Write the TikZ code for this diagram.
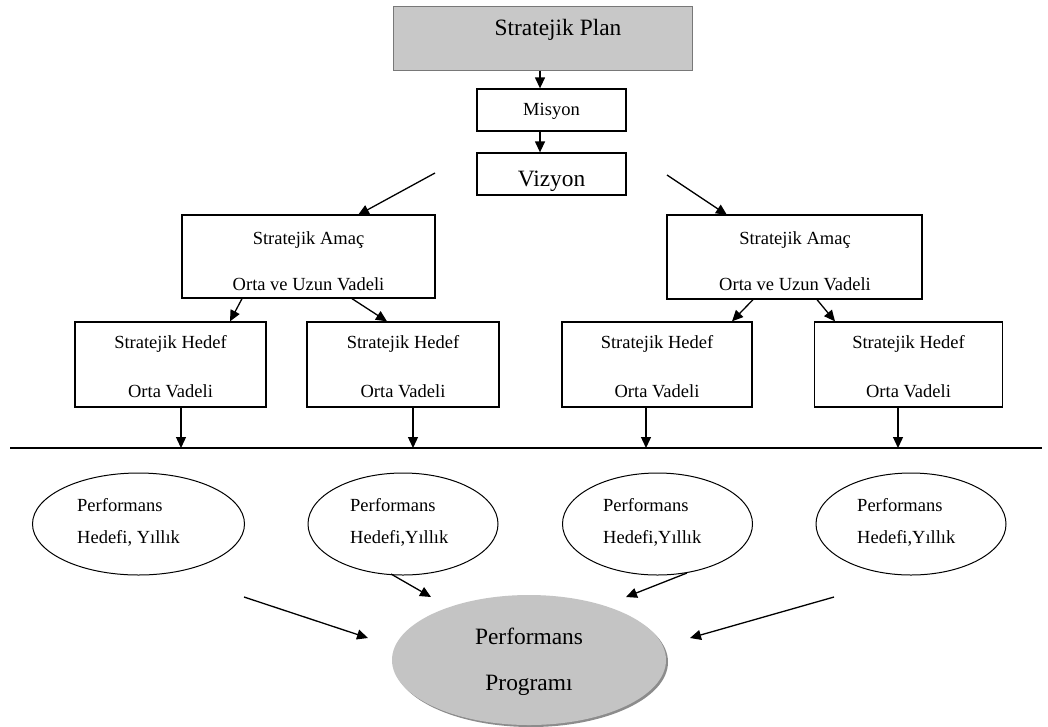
\documentclass[tikz,border=0pt]{standalone}
\usepackage{fontspec}
\setmainfont{Liberation Serif}
\usetikzlibrary{arrows.meta,shapes.geometric}
\definecolor{plangray}{RGB}{200,200,200}
\definecolor{planedge}{RGB}{120,120,120}
\definecolor{proggray}{RGB}{196,196,196}
\definecolor{progshadow}{RGB}{140,140,140}
\begin{document}
\begin{tikzpicture}[x=1pt,y=-1pt,
  box/.style={draw,line width=1.3pt,inner sep=0pt},
  arr/.style={line width=1.3pt,-{Triangle[length=11pt,width=10pt]}},
  small/.style={font=\fontsize{18.5}{20}\selectfont,inner sep=0pt,anchor=base},
  big/.style={font=\fontsize{23.4}{26}\selectfont,inner sep=0pt,anchor=base},
  perf/.style={draw,ellipse,line width=1pt,inner sep=0pt,minimum width=190pt,minimum height=102pt},
]
\useasboundingbox (0,0) rectangle (1048,726);
\fill[white] (0,0) rectangle (1048,726);

% top chain
\node[box,fill=plangray,draw=planedge,line width=1pt,minimum width=299pt,minimum height=64pt] (plan) at (542.5,38) {};
\node[big] (plantxt) at (558,35) {Stratejik Plan};
\node[box,minimum width=149pt,minimum height=42pt] (misyon) at (551.5,110) {};
\node[small] (misyontxt) at (551.5,115) {Misyon};
\node[box,minimum width=149pt,minimum height=42pt] (vizyon) at (551.5,174) {};
\node[big] (vizyontxt) at (551.5,186) {Vizyon};

\coordinate (ax) at (540,0);
\draw[arr] (plan.south -| ax) -- (misyon.north -| ax);
\draw[arr] (misyon.south -| ax) -- (vizyon.north -| ax);

% strategic goals
\node[box,minimum width=253pt,minimum height=83pt] (amacL) at (308.5,256.5) {};
\node[small] (amacLa) at (308.5,244) {Stratejik Amaç};
\node[small] (amacLb) at (308.5,290) {Orta ve Uzun Vadeli};
\node[box,minimum width=255pt,minimum height=84pt] (amacR) at (794.5,257) {};
\node[small] (amacRa) at (795,244) {Stratejik Amaç};
\node[small] (amacRb) at (795,290) {Orta ve Uzun Vadeli};

\coordinate (dL) at (435,173);
\coordinate (dR) at (667,175);
\coordinate (tL) at (358,215);
\coordinate (tR) at (727,215);
\draw[arr] (dL) -- (tL);
\draw[arr] (dR) -- (tR);

% strategic targets
\node[box,minimum width=191pt,minimum height=85pt] (h1) at (170.5,364.5) {};
\node[box,minimum width=192pt,minimum height=85pt] (h2) at (403,364.5) {};
\node[box,minimum width=190pt,minimum height=85pt] (h3) at (657,364.5) {};
\node[box,minimum width=188pt,minimum height=85pt] (h4) at (908.5,364.5) {};
\foreach \n/\x in {h1/170.5,h2/403,h3/657,h4/908.5}{
  \node[small] (\n a) at (\x,348) {Stratejik Hedef};
  \node[small] (\n b) at (\x,397) {Orta Vadeli};
}

\coordinate (sL1) at (242,0); \coordinate (eL1) at (230,0);
\coordinate (sL2) at (352,0); \coordinate (eL2) at (387,0);
\coordinate (sR1) at (753,0); \coordinate (eR1) at (732,0);
\coordinate (sR2) at (817,0); \coordinate (eR2) at (835,0);
\draw[arr] (amacL.south -| sL1) -- (h1.north -| eL1);
\draw[arr] (amacL.south -| sL2) -- (h2.north -| eL2);
\draw[arr] (amacR.south -| sR1) -- (h3.north -| eR1);
\draw[arr] (amacR.south -| sR2) -- (h4.north -| eR2);

% divider line
\coordinate (lineL) at (10,448);
\coordinate (lineR) at (1042,448);
\draw[line width=1.3pt] (lineL) -- (lineR);

\coordinate (a1) at (181,448); \coordinate (a2) at (413,448);
\coordinate (a3) at (646,448); \coordinate (a4) at (898,448);
\draw[arr] (h1.south -| a1) -- (a1);
\draw[arr] (h2.south -| a2) -- (a2);
\draw[arr] (h3.south -| a3) -- (a3);
\draw[arr] (h4.south -| a4) -- (a4);

% performance targets
\node[perf,minimum width=212pt] (p1) at (138.5,524) {};
\node[perf] (p2) at (403,524) {};
\node[perf] (p3) at (657.5,524) {};
\node[perf] (p4) at (911,524) {};
\node[small,anchor=base west] (p1a) at (77,511) {Performans};
\node[small,anchor=base west] (p1b) at (77,543) {Hedefi, Yıllık};
\node[small,anchor=base west] (p2a) at (350,511) {Performans};
\node[small,anchor=base west] (p2b) at (350,543) {Hedefi,Yıllık};
\node[small,anchor=base west] (p3a) at (603,511) {Performans};
\node[small,anchor=base west] (p3b) at (603,543) {Hedefi,Yıllık};
\node[small,anchor=base west] (p4a) at (857,511) {Performans};
\node[small,anchor=base west] (p4b) at (857,543) {Hedefi,Yıllık};

% program
\fill[progshadow] (531,662) ellipse [x radius=137pt, y radius=65pt];
\node[ellipse,fill=proggray,inner sep=0pt,minimum width=274pt,minimum height=130pt] (prog) at (529,660) {};
\node[big] (proga) at (529,644) {Performans};
\node[big] (progb) at (529,690) {Programı};

\coordinate (b1s) at (244,597); \coordinate (b1e) at (368,638);
\coordinate (b2s) at (391,574); \coordinate (b2e) at (431,597);
\coordinate (b3s) at (687,573); \coordinate (b3e) at (626,597);
\coordinate (b4s) at (834,597); \coordinate (b4e) at (690,638);
\draw[arr] (b1s) -- (b1e);
\draw[arr] (b2s) -- (b2e);
\draw[arr] (b3s) -- (b3e);
\draw[arr] (b4s) -- (b4e);
\end{tikzpicture}
\end{document}
